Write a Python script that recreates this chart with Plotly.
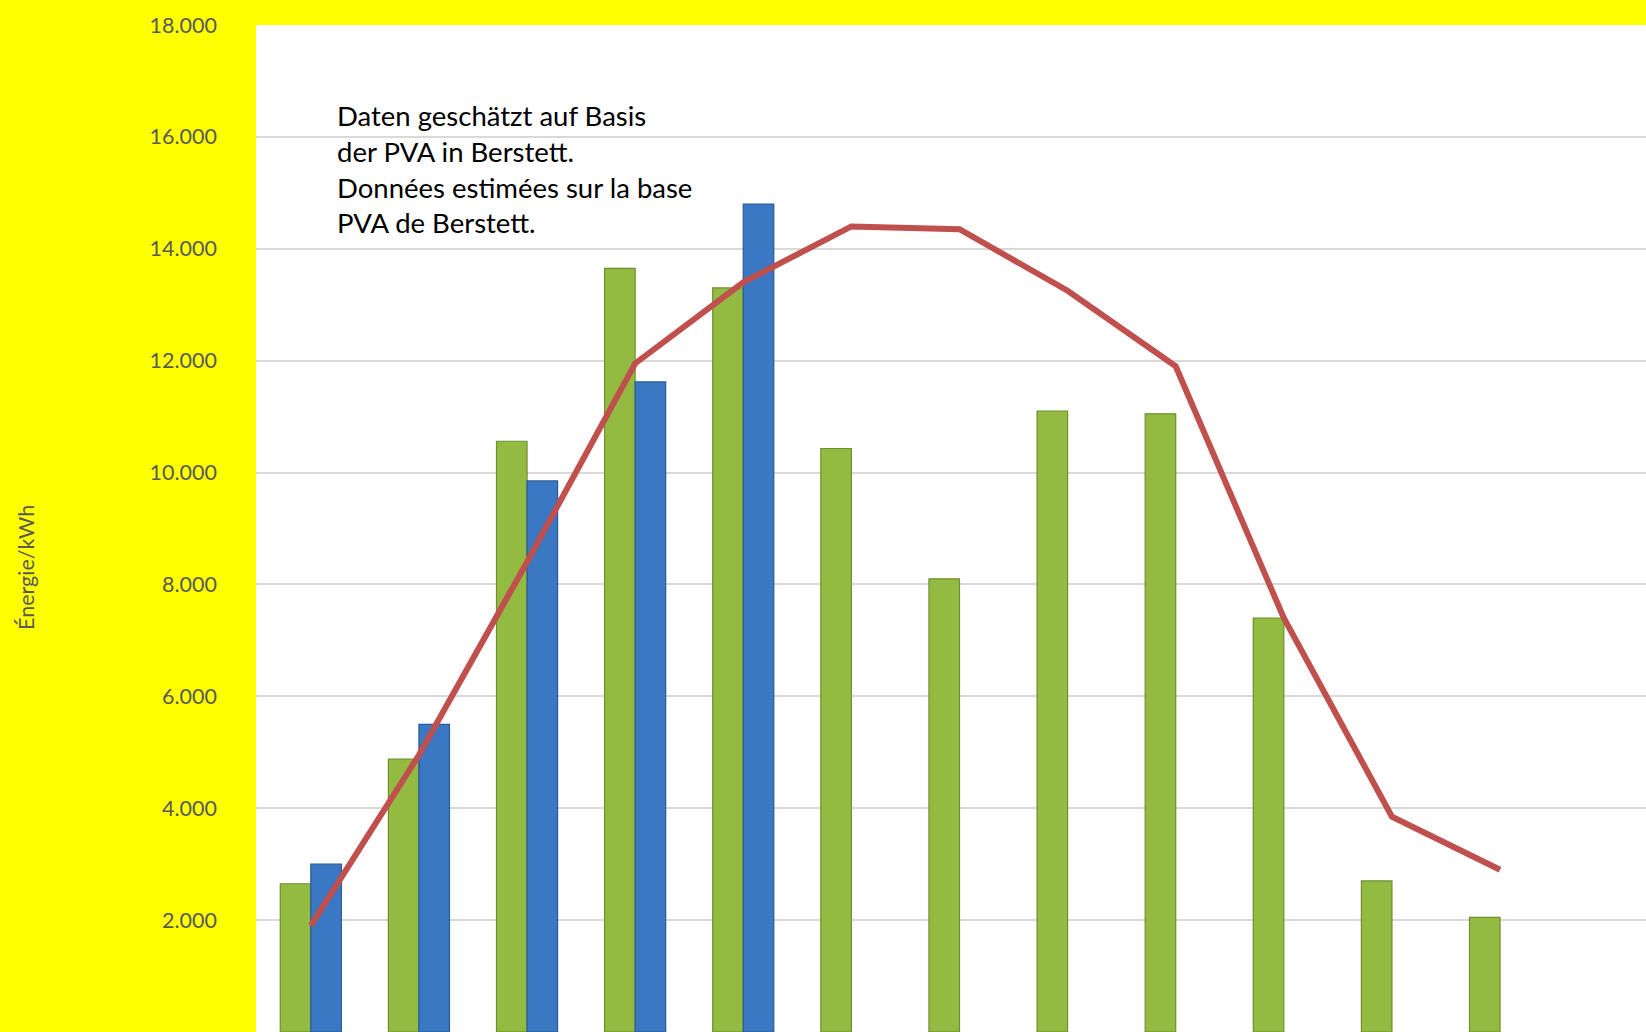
import plotly.graph_objects as go

months = ["Jan", "Feb", "Mär", "Apr", "Mai", "Jun", "Jul", "Aug", "Sep", "Okt", "Nov", "Dez"]
green_values = [2650, 4880, 10560, 13650, 13300, 10430, 8100, 11100, 11050, 7400, 2700, 2050]
blue_values = [3000, 5500, 9850, 11620, 14800, None, None, None, None, None, None, None]
line_values = [1900, 4950, 8400, 11950, 13400, 14400, 14350, 13250, 11900, 7400, 3850, 2900]
y_ticks = [2000, 4000, 6000, 8000, 10000, 12000, 14000, 16000, 18000]
y_tick_labels = ["2.000", "4.000", "6.000", "8.000", "10.000", "12.000", "14.000", "16.000", "18.000"]

note_text = ("Daten geschätzt auf Basis<br>der PVA in Berstett.<br>"
             "Données estimées sur la base<br>PVA de Berstett.")

fig = go.Figure()
fig.add_trace(go.Bar(x=months, y=green_values, name="green",
                     marker=dict(color="#93BB42", line=dict(color="#6E8F2C", width=1.2))))
fig.add_trace(go.Bar(x=months, y=blue_values, name="blue",
                     marker=dict(color="#3B78C3", line=dict(color="#2A5A96", width=1.2))))
fig.add_trace(go.Scatter(x=months, y=line_values, mode="lines", name="line",
                         line=dict(color="#C0504D", width=6)))

fig.update_layout(
    width=1646, height=1032,
    margin=dict(l=256, r=0, t=25, b=0),
    paper_bgcolor="#FFFF00",
    plot_bgcolor="#FFFFFF",
    barmode="group",
    bargap=0.435,
    bargroupgap=0,
    showlegend=False,
    font=dict(family="Lato, Open Sans, sans-serif"),
    xaxis=dict(range=[-0.507, 12.35], showticklabels=False, showgrid=False,
               zeroline=False, showline=False),
    yaxis=dict(range=[0, 18000], tickvals=y_ticks, ticktext=y_tick_labels,
               showgrid=True, gridcolor="#D9D9D9", gridwidth=1.5,
               zeroline=False, showline=False,
               tickfont=dict(size=21.5, color="#595959", family="Lato, Open Sans, sans-serif"),
               ticklabelstandoff=38),
    annotations=[
        dict(text=note_text, xref="paper", yref="paper", x=0.057, y=0.9285,
             xanchor="left", yanchor="top", align="left", showarrow=False,
             font=dict(size=27.5, color="#000000", family="Lato, Open Sans, sans-serif")),
        dict(text="Énergie/kWh", xref="paper", yref="paper", x=-0.1655, y=0.4618,
             xanchor="center", yanchor="middle", textangle=-90, showarrow=False,
             font=dict(size=21.5, color="#595959", family="Lato, Open Sans, sans-serif")),
    ],
)

fig.write_html("out.html", config={"displayModeBar": False},
               post_script="document.body.style.margin='0';document.body.style.padding='0';")
